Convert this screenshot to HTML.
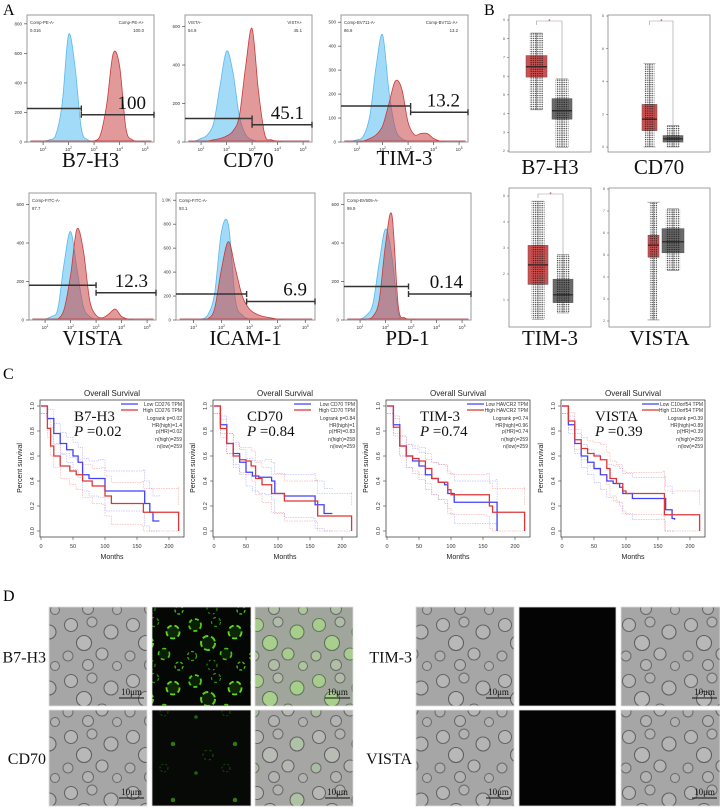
<!DOCTYPE html>
<html><head><meta charset="utf-8"><style>
html,body{margin:0;padding:0;background:#fff}
svg{display:block}
.serif{font-family:"Liberation Serif",serif}
.sans{font-family:"Liberation Sans",sans-serif}
</style></head><body>
<svg id="fig" width="720" height="809" viewBox="0 0 720 809" xmlns="http://www.w3.org/2000/svg">
<defs>
<pattern id="bf" width="62" height="56" patternUnits="userSpaceOnUse">
<rect width="62" height="56" fill="#a6a6a6"/>
<circle cx="9" cy="9" r="6.5" fill="#b6b6b6" stroke="#656565" stroke-width="1.1"/>
<circle cx="30" cy="6" r="5" fill="#b2b2b2" stroke="#6a6a6a" stroke-width="1"/>
<circle cx="49" cy="16" r="7" fill="#b4b4b4" stroke="#626262" stroke-width="1.1"/>
<circle cx="22" cy="27" r="7.5" fill="#b8b8b8" stroke="#606060" stroke-width="1.1"/>
<circle cx="6" cy="40" r="5" fill="#b0b0b0" stroke="#6a6a6a" stroke-width="1"/>
<circle cx="40" cy="38" r="6" fill="#b5b5b5" stroke="#646464" stroke-width="1.1"/>
<circle cx="26" cy="49" r="5.5" fill="#b3b3b3" stroke="#686868" stroke-width="1"/>
<circle cx="55" cy="50" r="4.5" fill="#b1b1b1" stroke="#6a6a6a" stroke-width="1"/>
</pattern>
<pattern id="gr1" width="62" height="56" patternUnits="userSpaceOnUse">
<rect width="62" height="56" fill="#040704"/>
<circle cx="9" cy="9" r="6" fill="#0a2004" stroke="#52c81c" stroke-width="1.8" stroke-dasharray="4 3"/>
<circle cx="30" cy="6" r="4.5" fill="none" stroke="#2f8a0c" stroke-width="1.2" stroke-dasharray="3 3"/>
<circle cx="49" cy="16" r="6.5" fill="#0c2606" stroke="#66d820" stroke-width="1.8" stroke-dasharray="5 3"/>
<circle cx="22" cy="27" r="7" fill="#0a1f04" stroke="#58cc1a" stroke-width="2" stroke-dasharray="6 3"/>
<circle cx="6" cy="40" r="4.5" fill="none" stroke="#3aa010" stroke-width="1.3" stroke-dasharray="3 2"/>
<circle cx="40" cy="38" r="5.5" fill="#0a1f04" stroke="#4cbc16" stroke-width="1.6" stroke-dasharray="4 4"/>
<circle cx="26" cy="49" r="5" fill="none" stroke="#2c800a" stroke-width="1.2" stroke-dasharray="2 3"/>
<circle cx="55" cy="50" r="4" fill="none" stroke="#44b014" stroke-width="1.4" stroke-dasharray="3 2"/>
</pattern>
<pattern id="gr2" width="62" height="56" patternUnits="userSpaceOnUse">
<rect width="62" height="56" fill="#060906"/>
<circle cx="22" cy="27" r="5" fill="none" stroke="#1c560a" stroke-width="1" stroke-dasharray="2 3"/>
<circle cx="49" cy="16" r="2.2" fill="#2e7c10"/>
<circle cx="10" cy="45" r="1.8" fill="#235f0c"/>
<circle cx="40" cy="40" r="4" fill="none" stroke="#174a08" stroke-width="1" stroke-dasharray="2 2"/>
</pattern>
<pattern id="gr3" width="62" height="56" patternUnits="userSpaceOnUse">
<rect width="62" height="56" fill="#030403"/>
</pattern>
<pattern id="mg1" width="62" height="56" patternUnits="userSpaceOnUse">
<rect width="62" height="56" fill="#a0a69c"/>
<circle cx="9" cy="9" r="6.5" fill="#a8cc8e" stroke="#667860" stroke-width="1.1"/>
<circle cx="30" cy="6" r="5" fill="#b0bca8" stroke="#6a6a6a" stroke-width="1"/>
<circle cx="49" cy="16" r="7" fill="#a6d08a" stroke="#627460" stroke-width="1.1"/>
<circle cx="22" cy="27" r="7.5" fill="#a8d08c" stroke="#607060" stroke-width="1.1"/>
<circle cx="6" cy="40" r="5" fill="#acc49c" stroke="#6a6a6a" stroke-width="1"/>
<circle cx="40" cy="38" r="6" fill="#a8cc90" stroke="#646e60" stroke-width="1.1"/>
<circle cx="26" cy="49" r="5.5" fill="#b0bea6" stroke="#686868" stroke-width="1"/>
<circle cx="55" cy="50" r="4.5" fill="#aac69a" stroke="#6a6a6a" stroke-width="1"/>
</pattern>
<pattern id="mg2" width="62" height="56" patternUnits="userSpaceOnUse">
<rect width="62" height="56" fill="#a6a6a4"/>
<circle cx="9" cy="9" r="6.5" fill="#b6b8b4" stroke="#656565" stroke-width="1.1"/>
<circle cx="30" cy="6" r="5" fill="#b2b2b2" stroke="#6a6a6a" stroke-width="1"/>
<circle cx="49" cy="16" r="7" fill="#b0c2a6" stroke="#626262" stroke-width="1.1"/>
<circle cx="22" cy="27" r="7.5" fill="#b8bcb4" stroke="#606060" stroke-width="1.1"/>
<circle cx="6" cy="40" r="5" fill="#acbca4" stroke="#6a6a6a" stroke-width="1"/>
<circle cx="40" cy="38" r="6" fill="#b5b7b3" stroke="#646464" stroke-width="1.1"/>
<circle cx="26" cy="49" r="5.5" fill="#b3b3b3" stroke="#686868" stroke-width="1"/>
<circle cx="55" cy="50" r="4.5" fill="#b1b1b1" stroke="#6a6a6a" stroke-width="1"/>
</pattern>
<pattern id="dots" width="2.2" height="2.2" patternUnits="userSpaceOnUse">
<circle cx="1" cy="1" r="0.7" fill="#111"/>
</pattern>
</defs>
<g id="root"></g>
</svg>
<script>
// ---------- Panel A data ----------
var histLogs = [0.5,0.75,1.0,1.25,1.5,1.75,2.0,2.25,2.5,2.75,3.0,3.25,3.5,3.75,4.0,4.25,4.5,4.75,5.0,5.25];
var histNames = ["B7-H3","CD70","TIM-3","VISTA","ICAM-1","PD-1"];
var blueB7H3 = [0,0,0,0.01,0.05,0.3,0.85,0.6,0.1,0.01,0,0,0,0,0,0,0,0,0,0];
var redB7H3  = [0,0,0,0,0,0,0,0,0,0,0,0.05,0.3,0.7,0.6,0.1,0.01,0,0,0];
var blueCD70 = [0,0,0.02,0.05,0.15,0.45,0.72,0.55,0.2,0.05,0.01,0,0,0,0,0,0,0,0,0];
var redCD70  = [0,0,0,0,0.01,0.02,0.04,0.08,0.2,0.6,0.9,0.4,0.05,0.01,0,0,0,0,0,0];
var blueTIM3 = [0,0,0.01,0.04,0.2,0.6,0.85,0.4,0.1,0.02,0,0,0,0,0,0,0,0,0,0];
var redTIM3  = [0,0,0,0,0.02,0.05,0.12,0.3,0.48,0.42,0.15,0.05,0.06,0.06,0.02,0,0,0,0,0];
var blueVISTA = [0,0,0,0.02,0.08,0.45,0.7,0.4,0.1,0.02,0,0,0,0,0,0,0,0,0,0];
var redVISTA  = [0,0,0,0,0,0.08,0.35,0.72,0.55,0.15,0.03,0.01,0.04,0.08,0.02,0,0,0,0,0];
var blueICAM = [0,0,0,0,0.03,0.2,0.7,0.75,0.15,0.03,0,0,0,0,0,0,0,0,0,0];
var redICAM  = [0,0,0,0,0,0.08,0.4,0.62,0.4,0.18,0.08,0.04,0.02,0.01,0,0,0,0,0,0];
var bluePD1 = [0,0,0,0.03,0.12,0.45,0.72,0.5,0.05,0,0,0,0,0,0,0,0,0,0,0];
var redPD1  = [0,0,0,0,0.02,0.15,0.6,0.83,0.1,0.01,0,0,0,0,0,0,0,0,0,0];
var gateSplit = [2.5,3.0,3.1,3.0,2.9,2.9];
var gateLeftY = [0.26,0.18,0.28,0.27,0.2,0.26];
var gateRightY = [0.21,0.13,0.23,0.21,0.14,0.2];
var gatePct = ["100","45.1","13.2","12.3","6.9","0.14"];
var hdrLeft = ["Comp-PE-A-","VISTA-","Comp-BV711-A-","Comp-FITC-A-","Comp-FITC-A-","Comp-BV605-A-"];
var hdrLeftVal = ["0.016","54.9","86.8","87.7","93.1","99.9"];
var hdrRight = ["Comp-PE-A+","VISTA+","Comp-BV711-A+","","",""];
var hdrRightVal = ["100.0","45.1","13.2","","",""];
var yTickLabels = [["0","200","400","600","800"],["0","200","400","600"],["0","100","200","300","400","500"],["0","200","400","600"],["0","200","400","600","800","1.0K"],["0","200","400","600"]];

// ---------- Panel B data ----------
var boxGenes = ["B7-H3","CD70","TIM-3","VISTA"];
var boxTumor = [[4.2,5.95,6.5,7.1,8.3],[0,1.0,1.7,2.6,5.1],[0.25,1.6,2.35,3.1,4.8],[2.05,4.9,5.45,5.9,7.4]];
var boxNormal = [[2.2,3.7,4.15,4.8,5.85],[0,0.3,0.5,0.7,1.3],[0.5,0.9,1.2,1.8,2.75],[4.3,5.1,5.6,6.2,7.1]];
var boxTicks = [[2,3,4,5,6,7,8,9],[0,2,4,6,8],[1,2,3,4,5],[2,3,4,5,6,7,8]];
var boxSig = [true,true,true,false];

// ---------- Panel C data ----------
var kmGenes = ["B7-H3","CD70","TIM-3","VISTA"];
var kmP = ["0.02","0.84","0.74","0.39"];
var kmSym = ["CD276","CD70","HAVCR2","C10orf54"];
var kmLogrank = ["0.02","0.84","0.74","0.39"];
var kmHR = ["1.4","1","0.96","0.89"];
var kmPHR = ["0.02","0.83","0.74","0.39"];
var kmNHigh = ["259","258","259","259"];
var kmNLow = ["259","259","259","259"];
var kmLow = [
 [[0,1],[10,0.9],[20,0.78],[30,0.7],[40,0.65],[50,0.6],[58,0.55],[65,0.45],[75,0.42],[90,0.42],[100,0.32],[160,0.32],[162,0.22],[170,0.15],[175,0.08],[185,0.08]],
 [[0,1],[10,0.85],[20,0.7],[30,0.62],[40,0.55],[50,0.47],[60,0.44],[70,0.43],[80,0.43],[90,0.4],[95,0.3],[110,0.28],[155,0.28],[158,0.21],[172,0.14],[185,0.14]],
 [[0,1],[10,0.85],[20,0.68],[30,0.6],[40,0.56],[50,0.52],[60,0.45],[70,0.42],[80,0.39],[90,0.37],[95,0.3],[105,0.23],[170,0.23],[172,0]],
 [[0,1],[10,0.85],[20,0.7],[30,0.6],[40,0.55],[50,0.5],[60,0.45],[70,0.4],[80,0.38],[90,0.35],[95,0.3],[110,0.26],[160,0.26],[162,0.17],[172,0.1],[176,0.09]]
];
var kmHigh = [
 [[0,1],[10,0.82],[15,0.68],[20,0.6],[30,0.52],[45,0.48],[55,0.45],[65,0.4],[80,0.36],[95,0.36],[100,0.28],[110,0.22],[158,0.22],[160,0.15],[215,0.15],[215,0]],
 [[0,1],[10,0.82],[20,0.7],[30,0.6],[40,0.57],[50,0.56],[58,0.52],[65,0.42],[75,0.37],[90,0.3],[110,0.24],[160,0.24],[162,0.12],[215,0.12],[215,0]],
 [[0,1],[10,0.83],[20,0.68],[30,0.6],[40,0.58],[50,0.56],[60,0.5],[70,0.42],[80,0.39],[95,0.33],[100,0.29],[155,0.29],[160,0.2],[165,0.15],[215,0.15],[215,0]],
 [[0,1],[10,0.88],[20,0.73],[30,0.66],[40,0.62],[50,0.6],[60,0.57],[70,0.5],[75,0.42],[85,0.38],[95,0.32],[100,0.3],[158,0.3],[160,0.13],[215,0.13],[215,0]]
];
var kmXTicks = [0,50,100,150,200];
var kmYTicks = [0,0.2,0.4,0.6,0.8,1.0];

// ---------- Panel D data ----------
var micGenes = ["B7-H3","CD70","TIM-3","VISTA"];
var micGreen = ["gr1","gr2","gr3","gr3"];
var micMerge = ["mg1","mg2","bf","bf"];

// ---------- helpers ----------
var NS = "http://www.w3.org/2000/svg";
var root = document.getElementById("root");
function mk(tag, attrs, parent, text){
  var el = document.createElementNS(NS, tag);
  for (var k in attrs) el.setAttribute(k, attrs[k]);
  if (text !== undefined) el.textContent = text;
  (parent || root).appendChild(el);
  return el;
}
function smoothPath(pts){
  var d = "M" + pts[0][0] + "," + pts[0][1];
  for (var i = 0; i < pts.length - 1; i++){
    var p0 = pts[Math.max(0,i-1)], p1 = pts[i], p2 = pts[i+1], p3 = pts[Math.min(pts.length-1,i+2)];
    var c1x = p1[0] + (p2[0]-p0[0])/6, c1y = p1[1] + (p2[1]-p0[1])/6;
    var c2x = p2[0] - (p3[0]-p1[0])/6, c2y = p2[1] - (p3[1]-p1[1])/6;
    d += " C" + c1x + "," + c1y + " " + c2x + "," + c2y + " " + p2[0] + "," + p2[1];
  }
  return d;
}
var el;

// panel letters
var letters = [["A",3,15],["B",484,15],["C",3,379],["D",3,601]];
letters.forEach(function(L){
  el = mk("text",{x:L[1],y:L[2],"font-size":16,class:"serif"},root,L[0]);
  
  
});

// ---------- Panel A ----------
var histBoxes = [[27,15,154,142],[185,15,312,142],[341,15,468,142],[29,193,156,320],[176,193,315,320],[344,193,471,320]];
var histBlue = [blueB7H3,blueCD70,blueTIM3,blueVISTA,blueICAM,bluePD1];
var histRed = [redB7H3,redCD70,redTIM3,redVISTA,redICAM,redPD1];
var labelY = [167,167,165,345,345,345];
histNames.forEach(function(name,i){
  var b = histBoxes[i];
  var g = mk("g",{});
  
  
  var x0=b[0], y0=b[1], x1=b[2], y1=b[3];
  var lx = function(v){ return x0 + (v-0.37)/(5.35-0.37)*(x1-x0); };
  var ly = function(v){ return y1 - 1 - v*(y1-y0-2); };
  var drawCurve = function(arr, fill, stroke, nm){
    var pts = histLogs.map(function(l,k){ return [lx(l), ly(arr[k])]; });
    var d = smoothPath(pts) + " L" + lx(5.25) + "," + ly(0) + " L" + lx(0.5) + "," + ly(0) + " Z";
    var p = mk("path",{d:d,fill:fill,stroke:stroke,"stroke-width":0.8},g);
    
    
  };
  drawCurve(histBlue[i],"rgba(110,200,245,0.65)","#5ab8ec","histogram-control-curve");
  drawCurve(histRed[i],"rgba(200,70,70,0.55)","#c83a3a","histogram-stained-curve");
  var fr = mk("rect",{x:x0,y:y0,width:x1-x0,height:y1-y0,fill:"none",stroke:"#999","stroke-width":1},g);
  
  
  for (var e=1;e<=5;e++){
    var tx = lx(e);
    mk("line",{x1:tx,y1:y1,x2:tx,y2:y1+3,stroke:"#333","stroke-width":0.6},g);
    var tl = mk("text",{x:tx,y:y1+9,"font-size":4.5,"text-anchor":"middle",class:"sans",fill:"#333"},g,"10");
    mk("tspan",{dy:-2,"font-size":3.2},tl,String(e));
    
    
  }
  var yt = yTickLabels[i];
  yt.forEach(function(t,k){
    var yy = y1 - k*(y1-y0)/(yt.length-0.7);
    mk("line",{x1:x0-3,y1:yy,x2:x0,y2:yy,stroke:"#333","stroke-width":0.6},g);
    var tt = mk("text",{x:x0-5,y:yy+1.5,"font-size":4.5,"text-anchor":"end",class:"sans",fill:"#333"},g,t);
    
    
  });
  var sx = lx(gateSplit[i]);
  var gl = ly(gateLeftY[i]), gr = ly(gateRightY[i]);
  var g1 = mk("path",{d:"M"+x0+","+gl+" H"+sx+" M"+sx+","+(gl-3)+" V"+(gl+3),stroke:"#333","stroke-width":1.4,fill:"none"},g);
  
  
  var g2 = mk("path",{d:"M"+sx+","+(gr-3)+" V"+(gr+3)+" M"+sx+","+gr+" H"+x1+" M"+x1+","+(gr-3)+" V"+(gr+3),stroke:"#333","stroke-width":1.4,fill:"none"},g);
  
  
  var pct = mk("text",{x:x1-8,y:gr-6,"font-size":19,"text-anchor":"end",class:"serif",fill:"#111"},g,gatePct[i]);
  
  
  var h1 = mk("text",{x:x0+3,y:y0+9,"font-size":4.3,class:"sans",fill:"#333"},g,hdrLeft[i]);
  
  
  var h2 = mk("text",{x:x0+3,y:y0+17,"font-size":4.3,class:"sans",fill:"#333"},g,hdrLeftVal[i]);
  
  
  if (hdrRight[i]){
    var h3 = mk("text",{x:x1-10,y:y0+9,"font-size":4.3,"text-anchor":"end",class:"sans",fill:"#333"},g,hdrRight[i]);
    
    
    var h4 = mk("text",{x:x1-10,y:y0+17,"font-size":4.3,"text-anchor":"end",class:"sans",fill:"#333"},g,hdrRightVal[i]);
    
    
  }
  var lab = mk("text",{x:(x0+x1)/2,y:labelY[i],"font-size":21,"text-anchor":"middle",class:"serif",fill:"#111"},root,name);
  
  
});

// ---------- Panel B ----------
var bxFrames = [[509,15,591,152],[608,15,710,152],[509,188,591,327],[609,188,710,327]];
var bxTumorX = [[526,547],[642,657],[528,548],[648,659]];
var bxNormalX = [[552,572],[663,683],[553,573],[662,684]];
var bxPix = [[20,151],[16,147],[196,300],[189,321]];
var bxLabelY = [174,174,345,345];
boxGenes.forEach(function(name,i){
  var f = bxFrames[i];
  var g = mk("g",{});
  
  
  var ticks = boxTicks[i];
  var tmax = ticks[ticks.length-1], tmin = ticks[0];
  var yv = function(v){ return bxPix[i][1] + (v - tmin)/(tmax - tmin)*(bxPix[i][0]-bxPix[i][1]); };
  var fr = mk("rect",{x:f[0],y:f[1],width:f[2]-f[0],height:f[3]-f[1],fill:"none",stroke:"#888","stroke-width":0.8},g);
  
  
  ticks.forEach(function(t){
    var yy = yv(t);
    mk("line",{x1:f[0]-2,y1:yy,x2:f[0],y2:yy,stroke:"#555","stroke-width":0.5},g);
    var tt = mk("text",{x:f[0]-4,y:yy+1.2,"font-size":3.5,"text-anchor":"end",class:"sans",fill:"#555"},g,String(t));
    
    
  });
  var drawBox = function(st, xs, col, nm){
    var cx = (xs[0]+xs[1])/2;
    var wk = mk("path",{d:"M"+cx+","+yv(st[0])+" V"+yv(st[4])+" M"+(cx-6)+","+yv(st[0])+" H"+(cx+6)+" M"+(cx-6)+","+yv(st[4])+" H"+(cx+6),stroke:"#777","stroke-width":0.6,fill:"none"},g);
    
    
    var bx = mk("rect",{x:xs[0],y:yv(st[3]),width:xs[1]-xs[0],height:yv(st[1])-yv(st[3]),fill:col,stroke:"#555","stroke-width":0.5},g);
    
    
    var pw = (xs[1]-xs[0])*0.65;
    var dt = mk("rect",{x:cx-pw/2,y:yv(st[4]),width:pw,height:yv(st[0])-yv(st[4]),fill:"url(#dots)",opacity:0.8},g);
    
    
    var md = mk("line",{x1:xs[0],y1:yv(st[2]),x2:xs[1],y2:yv(st[2]),stroke:"#222","stroke-width":1.2},g);
    
    
  };
  drawBox(boxTumor[i], bxTumorX[i], "#d05050", "tumor");
  drawBox(boxNormal[i], bxNormalX[i], "#6a6a6a", "normal");
  if (boxSig[i]){
    var a = (bxTumorX[i][0]+bxTumorX[i][1])/2, b = (bxNormalX[i][0]+bxNormalX[i][1])/2;
    var yb = f[1]+6;
    var br = mk("path",{d:"M"+a+","+(yb+4)+" V"+yb+" H"+b+" V"+yv(boxNormal[i][4]),stroke:"#999","stroke-width":0.6,fill:"none"},g);
    
    
    var st = mk("text",{x:(a+b)/2,y:yb+2.5,"font-size":6,"text-anchor":"middle",fill:"#e03030",class:"sans"},g,"*");
    
    
  }
  var lab = mk("text",{x:(f[0]+f[2])/2,y:bxLabelY[i],"font-size":21,"text-anchor":"middle",class:"serif",fill:"#111"},root,name);
  
  
});

// ---------- Panel C ----------
var kmX0 = [41,214,387,562];
kmGenes.forEach(function(name,i){
  var g = mk("g",{});
  
  
  var ox = kmX0[i];
  var xs = function(t){ return ox + t/200*128; };
  var ys = function(s){ return 531 - s*125; };
  var fl = ox - 1, fr = ox + 143;
  var fm = mk("rect",{x:fl,y:400,width:fr-fl,height:137,fill:"none",stroke:"#444","stroke-width":0.8},g);
  
  
  var tt = mk("text",{x:(fl+fr)/2,y:396,"font-size":8,"text-anchor":"middle",class:"sans",fill:"#222"},g,"Overall Survival");
  
  
  kmXTicks.forEach(function(t){
    mk("line",{x1:xs(t),y1:537,x2:xs(t),y2:540,stroke:"#444","stroke-width":0.6},g);
    var tl = mk("text",{x:xs(t),y:548,"font-size":5.5,"text-anchor":"middle",class:"sans",fill:"#333"},g,String(t));
    
    
  });
  kmYTicks.forEach(function(s){
    mk("line",{x1:fl-3,y1:ys(s),x2:fl,y2:ys(s),stroke:"#444","stroke-width":0.6},g);
    var yl = mk("text",{x:0,y:0,"font-size":5.5,"text-anchor":"middle",class:"sans",fill:"#333",transform:"translate("+(fl-6)+","+ys(s)+") rotate(-90)"},g,s.toFixed(1));
    
    
  });
  var xt = mk("text",{x:(fl+fr)/2,y:559,"font-size":7,"text-anchor":"middle",class:"sans",fill:"#222"},g,"Months");
  
  
  var ytl = mk("text",{x:0,y:0,"font-size":7,"text-anchor":"middle",class:"sans",fill:"#222",transform:"translate("+(fl-18)+",468) rotate(-90)"},g,"Percent survival");
  
  
  var stepD = function(arr, off){
    var d = "M" + xs(arr[0][0]) + "," + ys(Math.min(1,arr[0][1]+off));
    for (var k=1;k<arr.length;k++){
      d += " H" + xs(arr[k][0]) + " V" + ys(Math.max(0,Math.min(1,arr[k][1]+off*(1+k/6))));
    }
    return d;
  };
  [[kmLow[i],"#4040ff","low"],[kmHigh[i],"#e03535","high"]].forEach(function(c){
    [0.06,-0.06].forEach(function(off){
      var ci = mk("path",{d:stepD(c[0],off),stroke:c[1],"stroke-width":0.5,"stroke-dasharray":"1.5 1",fill:"none",opacity:0.5},g);
      
      
    });
    var ln = mk("path",{d:stepD(c[0],0),stroke:c[1],"stroke-width":1.3,fill:"none"},g);
    
    
  });
  var gl = mk("text",{x:ox+33,y:421,"font-size":15,class:"serif",fill:"#111"},g,name);
  
  
  var pl = mk("text",{x:ox+33,y:436,"font-size":15,class:"serif",fill:"#111"},g,"");
  mk("tspan",{"font-style":"italic"},pl,"P");
  mk("tspan",{},pl," =" + kmP[i]);
  
  
  var lx1 = ox + 80;
  var legBlue = mk("line",{x1:lx1,y1:404,x2:lx1+17,y2:404,stroke:"#4040ff","stroke-width":1.3},g);
  
  
  var legRed = mk("line",{x1:lx1,y1:410,x2:lx1+17,y2:410,stroke:"#e03535","stroke-width":1.3},g);
  
  
  var rx = fr - 2;
  var lines = ["Low " + kmSym[i] + " TPM","High " + kmSym[i] + " TPM","Logrank p=" + kmLogrank[i],"HR(high)=" + kmHR[i],"p(HR)=" + kmPHR[i],"n(high)=" + kmNHigh[i],"n(low)=" + kmNLow[i]];
  var ly = [406,412,420,427,433,441,448];
  lines.forEach(function(t,k){
    var e2 = mk("text",{x:rx,y:ly[k],"font-size":5,"text-anchor":"end",class:"sans",fill:"#333"},g,t);
    
    
  });
});

// ---------- Panel D ----------
var micCols = [[49,98],[152,99],[255,98],[416,98],[519,97],[621,99]];
var micRows = [[607,99],[710,96]];
micGenes.forEach(function(name,i){
  var grp = i < 2 ? 0 : 1;
  var row = i % 2;
  var r = micRows[row];
  var g = mk("g",{});
  
  
  var fills = ["url(#bf)","url(#" + micGreen[i] + ")","url(#" + micMerge[i] + ")"];
  var kinds = ["brightfield","fluorescence","merge"];
  for (var c=0;c<3;c++){
    var col = micCols[grp*3 + c];
    var im = mk("rect",{x:col[0],y:r[0],width:col[1],height:r[1],fill:fills[c],stroke:"#ddd","stroke-width":0.8},g);
    
    
    if (c !== 1){
      var bx = col[0]+col[1]-28, by = r[0]+r[1]-8;
      var sb = mk("line",{x1:bx,y1:by,x2:bx+25,y2:by,stroke:"#111","stroke-width":1},g);
      
      
      var st = mk("text",{x:bx+12.5,y:by-3,"font-size":9,"text-anchor":"middle",class:"serif",fill:"#111"},g,"10μm");
      
      
    }
  }
  var lx = grp === 0 ? 46 : 412;
  var lab = mk("text",{x:lx,y:r[0]+r[1]/2+6,"font-size":16,"text-anchor":"end",class:"serif",fill:"#111"},root,name);
  
  
});
</script>
</body></html>
